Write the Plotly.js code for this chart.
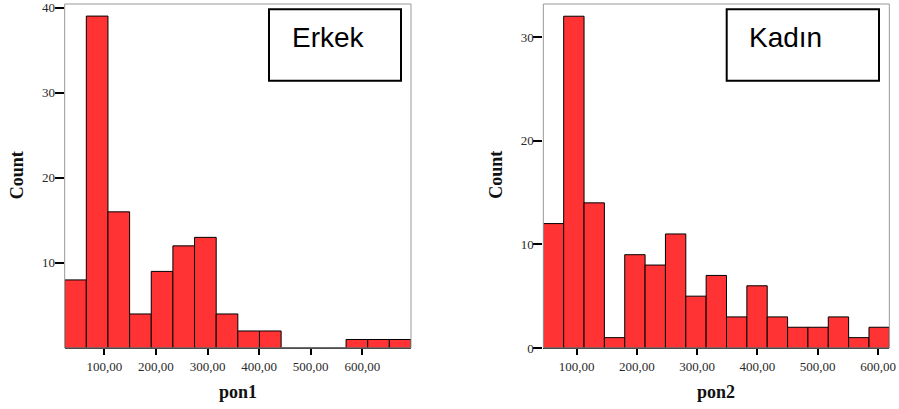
<!DOCTYPE html>
<html>
<head>
<meta charset="utf-8">
<script src="https://cdn.plot.ly/plotly-3.0.1.min.js"></script>
<style>html,body{margin:0;padding:0;background:#fff;}#chart{width:899px;height:409px;}</style>
</head>
<body>
<div id="chart"></div>
<script>
// ---- data ----
const erkekCounts = [8, 39, 16, 4, 9, 12, 13, 4, 2, 2, 0, 0, 0, 1, 1, 1];
const erkekBinStart = 23.1;
const erkekBinWidth = 41.95;
const kadinCounts = [12, 32, 14, 1, 9, 8, 11, 5, 7, 3, 6, 3, 2, 2, 3, 1, 2];
const kadinBinStart = 44.7;
const kadinBinWidth = 33.77;
const xTickVals = [100, 200, 300, 400, 500, 600];
const xTickText = ['100,00', '200,00', '300,00', '400,00', '500,00', '600,00'];
const yTickValsErkek = [10, 20, 30, 40];
const yTickValsKadin = [0, 10, 20, 30];
const groupNames = ['Erkek', 'Kadın'];
const xTitles = ['pon1', 'pon2'];
const yTitle = 'Count';

function centers(start, w, n) {
  const c = [];
  for (let i = 0; i < n; i++) c.push(start + (i + 0.5) * w);
  return c;
}

const W = 899, H = 409;
const px = v => v / W;
const py = v => 1 - v / H;

const barStyle = {color: 'rgb(255,51,51)', line: {color: '#000', width: 1}};

const traces = [
  {type: 'bar', x: centers(erkekBinStart, erkekBinWidth, erkekCounts.length), y: erkekCounts,
   width: erkekBinWidth, marker: barStyle, xaxis: 'x', yaxis: 'y', hoverinfo: 'x+y', name: groupNames[0]},
  {type: 'bar', x: centers(kadinBinStart, kadinBinWidth, kadinCounts.length), y: kadinCounts,
   width: kadinBinWidth, marker: barStyle, xaxis: 'x2', yaxis: 'y2', hoverinfo: 'x+y', name: groupNames[1]}
];

const tickFont = {family: '"Liberation Serif", "Times New Roman", serif', size: 13, color: '#2a2a2a'};
const titleFont = {family: '"Liberation Serif", "Times New Roman", serif', size: 18, color: '#111', weight: 'bold'};

function xAxis(domain, range, anchor) {
  return {domain, range, anchor, tickmode: 'array', tickvals: xTickVals, ticktext: xTickText,
    ticks: 'outside', ticklen: 6, tickwidth: 2, tickcolor: '#000', showline: true, linecolor: '#000',
    linewidth: 1, showgrid: false, zeroline: false, tickfont: tickFont, fixedrange: true};
}
function yAxis(domain, range, anchor, vals) {
  return {domain, range, anchor, tickmode: 'array', tickvals: vals, ticks: 'outside', ticklen: 9,
    tickwidth: 2, tickcolor: '#000', showline: false, showgrid: false, zeroline: false,
    tickfont: tickFont, ticklabelstandoff: -3, fixedrange: true};
}

const yDom = [py(348), py(4)];
const layout = {
  width: W, height: H,
  margin: {l: 0, r: 0, t: 0, b: 0},
  paper_bgcolor: '#fff', plot_bgcolor: '#fff',
  showlegend: false, bargap: 0,
  xaxis: xAxis([px(64.67), px(411)], [erkekBinStart, erkekBinStart + erkekBinWidth * erkekCounts.length], 'y'),
  yaxis: yAxis(yDom, [0, 40.42], 'x', yTickValsErkek),
  xaxis2: xAxis([px(543.33), px(889.33)], [kadinBinStart, kadinBinStart + kadinBinWidth * kadinCounts.length], 'y2'),
  yaxis2: yAxis(yDom, [0, 33.18], 'x2', yTickValsKadin),
  shapes: [
    {type: 'rect', xref: 'x domain', yref: 'y domain', x0: 0, x1: 1, y0: 0, y1: 1, line: {color: '#999', width: 1}, layer: 'above'},
    {type: 'rect', xref: 'x2 domain', yref: 'y2 domain', x0: 0, x1: 1, y0: 0, y1: 1, line: {color: '#999', width: 1}, layer: 'above'},
    {type: 'rect', xref: 'paper', yref: 'paper', x0: px(269), x1: px(401), y0: py(80.7), y1: py(9.3), line: {color: '#000', width: 2}, fillcolor: '#fff', layer: 'above'},
    {type: 'rect', xref: 'paper', yref: 'paper', x0: px(726.7), x1: px(879), y0: py(80.7), y1: py(9.3), line: {color: '#000', width: 2}, fillcolor: '#fff', layer: 'above'}
  ],
  annotations: [
    {xref: 'paper', yref: 'paper', x: px(289.5), y: py(37), xanchor: 'left', yanchor: 'middle', showarrow: false,
     text: groupNames[0], font: {family: '"Liberation Sans", Arial, sans-serif', size: 28, color: '#000'}},
    {xref: 'paper', yref: 'paper', x: px(747), y: py(37), xanchor: 'left', yanchor: 'middle', showarrow: false,
     text: groupNames[1], font: {family: '"Liberation Sans", Arial, sans-serif', size: 28, color: '#000'}},
    {xref: 'paper', yref: 'paper', x: px(237.9), y: py(391.5), xanchor: 'center', yanchor: 'middle', showarrow: false,
     text: xTitles[0], font: titleFont},
    {xref: 'paper', yref: 'paper', x: px(716.3), y: py(391.5), xanchor: 'center', yanchor: 'middle', showarrow: false,
     text: xTitles[1], font: titleFont},
    {xref: 'paper', yref: 'paper', x: px(17.3), y: py(175), xanchor: 'center', yanchor: 'middle', showarrow: false,
     text: yTitle, textangle: -90, font: titleFont},
    {xref: 'paper', yref: 'paper', x: px(495.7), y: py(175), xanchor: 'center', yanchor: 'middle', showarrow: false,
     text: yTitle, textangle: -90, font: titleFont}
  ]
};

Plotly.newPlot('chart', traces, layout, {displayModeBar: false, staticPlot: true});
</script>
</body>
</html>
